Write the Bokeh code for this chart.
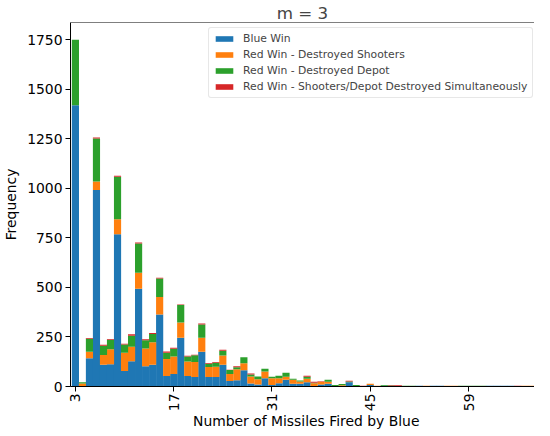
from math import pi
from bokeh.plotting import figure
from bokeh.layouts import column
from bokeh.models import ColumnDataSource, FixedTicker, Range1d, Span, Div
from bokeh.embed import file_html
from bokeh.resources import INLINE

missiles = list(range(3, 70))
blue_win = [1420, 2, 143, 992, 110, 112, 768, 78, 128, 493, 102, 110, 363, 53, 63, 246,
            53, 48, 175, 48, 48, 110, 28, 31, 82, 15, 10, 42, 8, 17, 34, 14, 14, 22, 3,
            10, 14, 0, 0, 22, 0, 0, 8, 0, 4, 0, 0, 0, 0, 4, 0, 4, 4, 0, 0, 0, 0, 0, 0,
            4, 4, 4, 4, 0, 0, 0, 0]
red_shooters = [0, 13, 32, 43, 49, 76, 76, 92, 72, 81, 90, 113, 89, 86, 88, 77, 73, 76,
                71, 50, 52, 47, 35, 56, 35, 36, 26, 34, 34, 25, 15, 20, 11, 17, 14, 14,
                10, 0, 6, 0, 0, 0, 6, 4, 0, 0, 0, 0, 0, 0, 4, 0, 0, 4, 4, 0, 0, 0, 0, 0,
                0, 0, 0, 0, 4, 4, 0]
red_depot = [330, 6, 66, 217, 47, 48, 214, 42, 56, 148, 41, 42, 93, 31, 40, 88, 25, 34,
             67, 17, 20, 24, 20, 10, 31, 10, 15, 14, 7, 12, 20, 5, 5, 10, 2, 0, 10, 8, 6,
             3, 8, 0, 0, 0, 4, 5, 3, 4, 4, 0, 0, 0, 0, 0, 0, 4, 4, 4, 4, 0, 0, 0, 0, 0,
             0, 0, 4]
red_simultaneous = [0, 0, 4, 5, 5, 4, 6, 4, 8, 5, 5, 5, 4, 7, 4, 3, 4, 2, 5, 4, 4, 5, 1,
                    5, 0, 5, 0, 0, 0, 0, 0, 0, 0, 5, 5, 3, 0, 0, 0, 4, 0, 4, 0, 0, 0, 3,
                    3, 0, 0, 0, 0, 0, 0, 0, 0, 0, 0, 0, 0, 0, 0, 0, 0, 4, 0, 0, 0]
x_ticks = [3, 17, 31, 45, 59]
y_ticks = [0, 250, 500, 750, 1000, 1250, 1500, 1750]
labels = ["Blue Win", "Red Win - Destroyed Shooters", "Red Win - Destroyed Depot",
          "Red Win - Shooters/Depot Destroyed Simultaneously"]
colors = ["#1f77b4", "#ff7f0e", "#2ca02c", "#d62728"]

source = ColumnDataSource(dict(x=missiles, blue=blue_win, shooters=red_shooters,
                               depot=red_depot, simul=red_simultaneous))

FONT = "DejaVu Sans"
Y_TOP = 1837
p = figure(width=534, height=414, output_backend="svg", toolbar_location=None,
           x_range=Range1d(2.3, 68.4), y_range=Range1d(0, Y_TOP),
           title="m = 3", min_border_left=62, min_border_right=0, min_border_top=0,
           min_border_bottom=0)

p.vbar_stack(["blue", "shooters", "depot", "simul"], x="x", width=1.02,
             fill_color=colors, line_color=None, source=source, legend_label=labels)

p.title.align = "center"
p.title.text_font = FONT
p.title.text_font_size = "16.7px"
p.title.text_font_style = "normal"
p.title.standoff = 0
p.title.offset = 0

p.outline_line_color = None
p.add_layout(Span(location=Y_TOP, dimension="width", line_color="black", line_width=1))
p.xgrid.grid_line_color = None
p.ygrid.grid_line_color = None

for ax in (p.xaxis[0], p.yaxis[0]):
    ax.axis_line_color = "black"
    ax.axis_line_width = 1
    ax.major_tick_line_color = "black"
    ax.major_tick_out = 5
    ax.major_tick_in = 0
    ax.minor_tick_line_color = None
    ax.major_label_text_font = FONT
    ax.major_label_text_font_size = "13.9px"
    ax.major_label_text_color = "black"
    ax.axis_label_text_font = FONT
    ax.axis_label_text_font_size = "13.9px"
    ax.axis_label_text_font_style = "normal"
    ax.axis_label_text_color = "black"
    ax.major_label_standoff = 3
    ax.axis_label_standoff = 5

p.xaxis[0].ticker = FixedTicker(ticks=x_ticks)
p.yaxis[0].ticker = FixedTicker(ticks=y_ticks)
p.xaxis[0].major_label_orientation = pi / 2
p.xaxis[0].major_label_standoff = 2
p.yaxis[0].axis_label = "Frequency"

lg = p.legend[0]
lg.location = (138, 288)
lg.margin = 0
lg.padding = 4
lg.spacing = 3
lg.label_height = 12
lg.glyph_height = 7
lg.glyph_width = 22
lg.label_standoff = 8
lg.label_text_font = FONT
lg.label_text_font_size = "10.8px"
lg.border_line_color = "#d0d0d0"
lg.border_line_width = 1
lg.border_radius = 3
lg.background_fill_alpha = 0.8

xlabel = Div(text="Number of Missiles Fired by Blue", width=534, height=6,
             styles={"font-family": FONT, "font-size": "13.9px", "line-height": "14px",
                     "color": "black", "white-space": "nowrap", "overflow": "visible",
                     "padding-left": "193px", "margin": "0"})

layout = column(p, xlabel, spacing=0)
open("out.html", "w").write(file_html(layout, INLINE))
